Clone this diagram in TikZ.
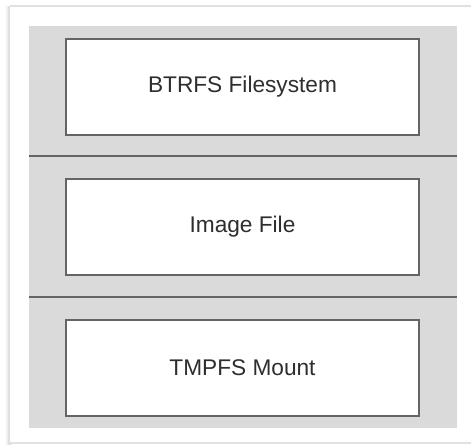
\documentclass[tikz,border=0pt]{standalone}
\usepackage{fontspec}
\newfontfamily\boxfont{Liberation Sans}
\usetikzlibrary{positioning}
\definecolor{layergray}{RGB}{218,218,218}
\definecolor{edgegray}{RGB}{100,100,100}
\definecolor{framegray}{RGB}{225,225,225}

\begin{document}
\begin{tikzpicture}[x=0.75pt,y=-0.75pt]
\tikzset{
  layerbox/.style={rectangle, draw=edgegray, line width=1.1pt, fill=white, minimum width=264.75pt, minimum height=72pt, inner sep=0pt, font=\boxfont\fontsize{17pt}{20pt}\selectfont, text=black!82},
}
\useasboundingbox (0,0) rectangle (471,445);
% frame with soft shadow on the left
\fill[black!6] (6,6) rectangle (12,445);
\fill[black!12] (8,6) rectangle (11,445);
\fill[white] (10,6) rectangle (471,443);
\draw[framegray, line width=0.8pt] (10,6) -- (471,6);
\draw[framegray, line width=0.8pt] (10,443) -- (471,443);
% stack background
\fill[layergray] (29,26) rectangle (457,428);
\draw[edgegray, line width=0.8pt] (29,156) -- (457,156);
\draw[edgegray, line width=0.8pt] (29,297) -- (457,297);

\node[layerbox] (btrfs) at (242.5,87) {BTRFS Filesystem};
\node[layerbox] (image) at (242.5,227) {Image File};
\node[layerbox] (tmpfs) at (242.5,368) {TMPFS Mount};
\end{tikzpicture}
\end{document}
